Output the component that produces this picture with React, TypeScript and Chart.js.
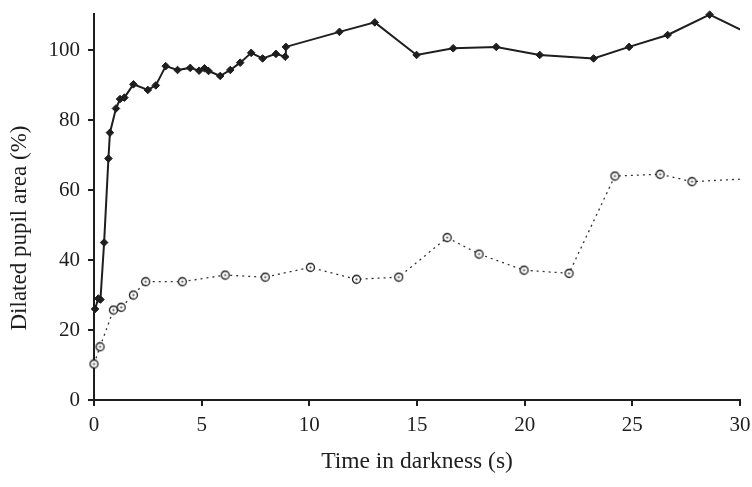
import React, { useEffect, useRef } from "react";
import { Chart, registerables } from "chart.js";

Chart.register(...registerables);

// Solid series (filled diamonds)
const solidTime = [0.05, 0.2, 0.3, 0.47, 0.67, 0.74, 1.02, 1.21, 1.41, 1.83, 2.5, 2.87, 3.33, 3.88, 4.47, 4.88, 5.13, 5.32, 5.86, 6.33, 6.79, 7.3, 7.83, 8.45, 8.88, 8.91, 11.4, 13.04, 14.98, 16.68, 18.68, 20.7, 23.2, 24.85, 26.64, 28.59, 31];
const solidArea = [26, 29, 28.7, 45, 69, 76.4, 83.3, 86, 86.4, 90.2, 88.6, 89.9, 95.4, 94.3, 94.9, 94.1, 94.8, 94, 92.6, 94.3, 96.4, 99.2, 97.6, 98.9, 98.1, 100.9, 105.2, 107.9, 98.6, 100.5, 100.9, 98.6, 97.6, 100.9, 104.3, 110.1, 102.9];

// Dotted series (open circles)
const dottedTime = [0, 0.28, 0.9, 1.26, 1.83, 2.4, 4.1, 6.09, 7.95, 10.05, 12.19, 14.15, 16.4, 17.88, 19.97, 22.06, 24.19, 26.29, 27.77, 31];
const dottedArea = [10.3, 15.2, 25.7, 26.5, 30, 33.8, 33.8, 35.7, 35.1, 37.9, 34.5, 35.1, 46.4, 41.7, 37.1, 36.2, 64, 64.5, 62.4, 63.4];

const xTicks = [0, 5, 10, 15, 20, 25, 30];
const yTicks = [0, 20, 40, 60, 80, 100];
const xTitle = "Time in darkness (s)";
const yTitle = "Dilated pupil area (%)";

const FONT = "'Liberation Serif', 'Times New Roman', serif";
const INK = "#1e1e1e";

function makeCircleMarker(): HTMLCanvasElement {
  const c = document.createElement("canvas");
  c.width = 11;
  c.height = 11;
  const g = c.getContext("2d")!;
  g.fillStyle = "#ffffff";
  g.strokeStyle = "#1e1e1e";
  g.lineWidth = 1.3;
  g.beginPath();
  g.arc(5.5, 5.5, 4, 0, Math.PI * 2);
  g.fill();
  g.stroke();
  g.fillStyle = "#444";
  g.beginPath();
  g.arc(5.5, 5.5, 1.1, 0, Math.PI * 2);
  g.fill();
  return c;
}

export default function App() {
  const ref = useRef<HTMLCanvasElement | null>(null);

  useEffect(() => {
    if (!ref.current) return;
    const marker = makeCircleMarker();

    const yTitlePlugin = {
      id: "yTitleCustom",
      afterDraw(chart: any) {
        const ctx = chart.ctx;
        ctx.save();
        ctx.translate(20, 228);
        ctx.rotate(-Math.PI / 2);
        ctx.font = `23px ${FONT}`;
        ctx.fillStyle = INK;
        ctx.textAlign = "center";
        ctx.textBaseline = "middle";
        ctx.fillText(yTitle, 0, 0);
        ctx.restore();
      },
    };

    const chart = new Chart(ref.current, {
      type: "line",
      data: {
        datasets: [
          {
            data: solidTime.map((t, i) => ({ x: t, y: solidArea[i] })),
            borderColor: INK,
            borderWidth: 2,
            pointStyle: "rectRot",
            pointRadius: 3.8,
            pointBackgroundColor: INK,
            pointBorderColor: INK,
            pointBorderWidth: 1,
            tension: 0,
            clip: { left: 6, top: 6, right: 0, bottom: 6 } as any,
          },
          {
            data: dottedTime.map((t, i) => ({ x: t, y: dottedArea[i] })),
            borderColor: "#333",
            borderWidth: 1.3,
            borderDash: [2, 4],
            pointStyle: marker as any,
            pointRadius: 4,
            tension: 0,
            clip: { left: 6, top: 6, right: 0, bottom: 6 } as any,
          },
        ],
      },
      options: {
        responsive: false,
        animation: false,
        layout: { padding: { top: 14, right: 12, left: 0, bottom: 0 } },
        plugins: { legend: { display: false }, tooltip: { enabled: false } },
        scales: {
          x: {
            type: "linear",
            min: 0,
            max: 30,
            afterBuildTicks: (s: any) => {
              s.ticks = xTicks.map((v) => ({ value: v }));
            },
            afterFit: (s: any) => {
              s.height = 87;
              s.paddingLeft = 0;
              s.paddingRight = 0;
            },
            border: { display: true, color: INK, width: 2 },
            grid: { drawOnChartArea: false, drawTicks: true, tickLength: 6, color: INK, lineWidth: 2 },
            ticks: { color: INK, font: { family: FONT, size: 21 }, padding: 7, maxRotation: 0 },
            title: {
              display: true,
              text: xTitle,
              color: INK,
              font: { family: FONT, size: 23.5 },
              padding: { top: 0, bottom: 11 },
            },
          },
          y: {
            type: "linear",
            min: 0,
            max: 110.3,
            afterBuildTicks: (s: any) => {
              s.ticks = yTicks.map((v) => ({ value: v }));
            },
            afterFit: (s: any) => {
              s.width = 94;
              s.paddingTop = 0;
              s.paddingBottom = 0;
            },
            border: { display: true, color: INK, width: 2 },
            grid: { drawOnChartArea: false, drawTicks: true, tickLength: 6, color: INK, lineWidth: 2 },
            ticks: { color: INK, font: { family: FONT, size: 21 }, padding: 8 },
          },
        },
      },
      plugins: [yTitlePlugin],
    });

    return () => chart.destroy();
  }, []);

  return (
    <div style={{ position: "absolute", left: 0, top: 0, width: 752, height: 487, background: "#fff" }}>
      <canvas ref={ref} width={752} height={487} style={{ width: 752, height: 487, display: "block" }} />
    </div>
  );
}
